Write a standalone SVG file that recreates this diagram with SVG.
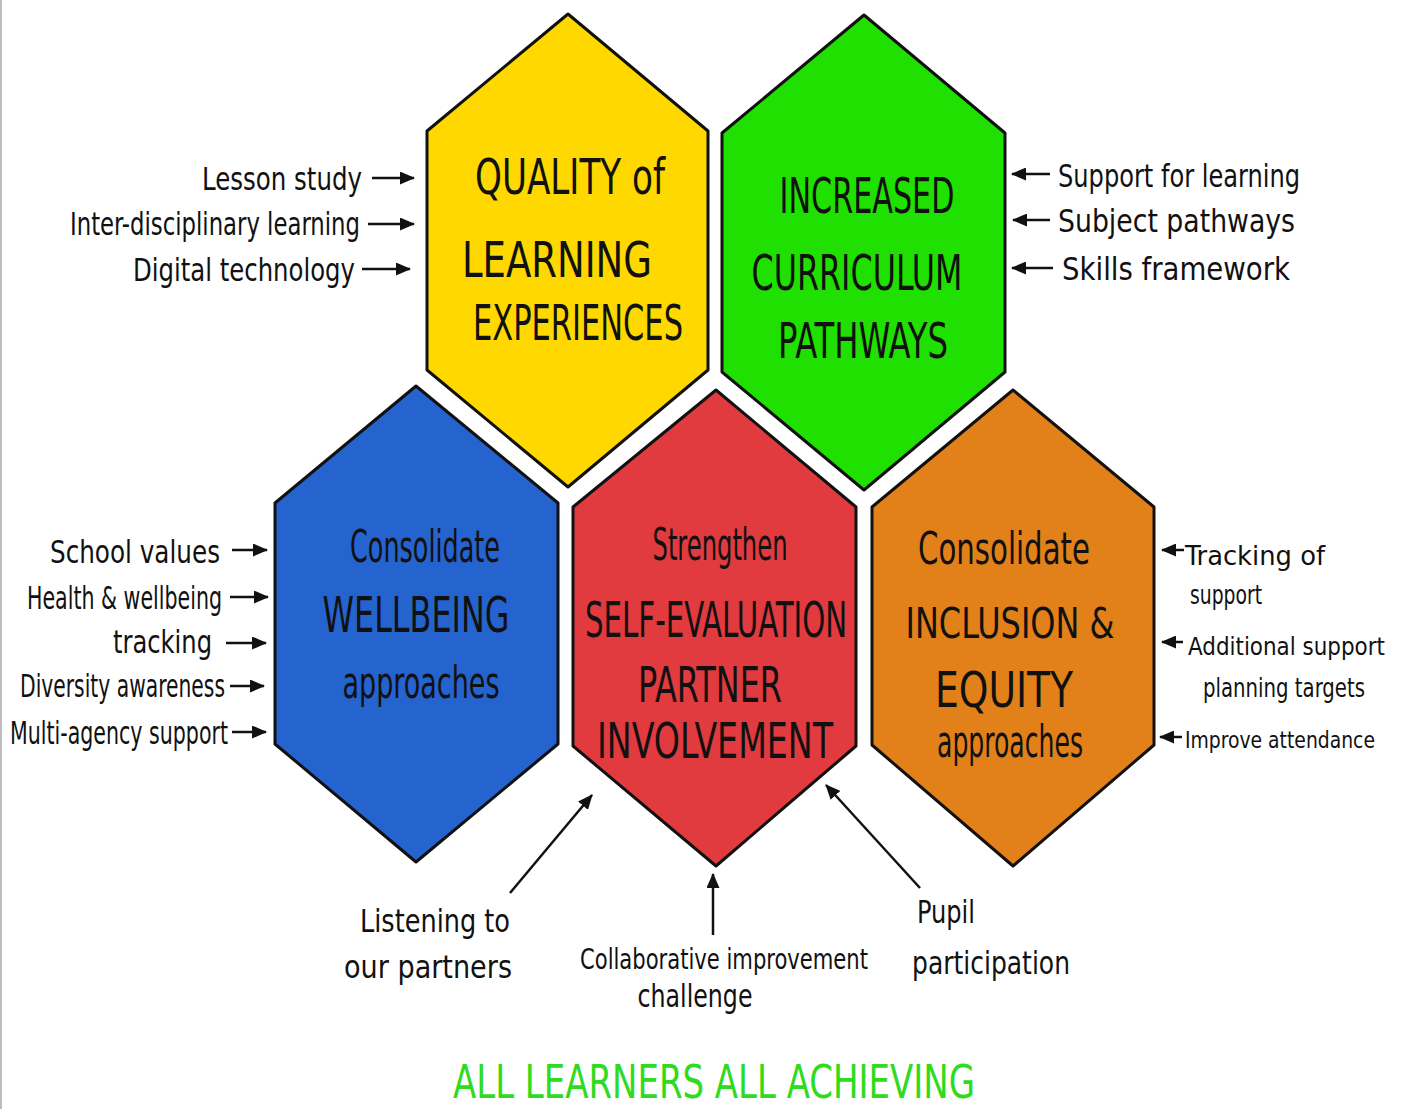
<svg xmlns="http://www.w3.org/2000/svg" width="1403" height="1109" viewBox="0 0 1403 1109">
<style>
.hex{stroke:#111;stroke-width:3;stroke-linejoin:round}
.t{font-family:"Liberation Sans Narrow","DejaVu Sans Condensed","Liberation Sans",sans-serif;fill:#111}
.cap{font-size:50px}
.mix{font-size:44px}
.lbl{font-size:32px}
.rl{font-size:27px}
.rs{font-size:25px}
.ar{stroke:#111;stroke-width:2.5;fill:none}
</style>
<defs>
<marker id="ah" markerUnits="userSpaceOnUse" markerWidth="15" markerHeight="13" viewBox="0 0 15 13" refX="14" refY="6.5" orient="auto">
<path d="M0,0 L15,6.5 L0,13 z" fill="#111"/>
</marker>
</defs>
<rect x="0" y="0" width="1403" height="1109" fill="#fff"/>
<rect x="0" y="0" width="2" height="1109" fill="#bdbdbd"/>

<g id="node-quality">
<polygon class="hex" fill="#FFD800" points="568,14 708,131 708,370 568,487 427,370 427,131"/>
<text class="t cap" x="570" y="194" text-anchor="middle" textLength="190" lengthAdjust="spacingAndGlyphs">QUALITY of</text>
<text class="t cap" x="557" y="277" text-anchor="middle" textLength="190" lengthAdjust="spacingAndGlyphs">LEARNING</text>
<text class="t cap" x="578" y="340" text-anchor="middle" textLength="210" lengthAdjust="spacingAndGlyphs">EXPERIENCES</text>
</g>

<g id="node-curriculum">
<polygon class="hex" fill="#1FE000" points="864,15 1005,133 1005,372 864,490 722,372 722,133"/>
<text class="t cap" x="867" y="213" text-anchor="middle" textLength="175" lengthAdjust="spacingAndGlyphs">INCREASED</text>
<text class="t cap" x="857" y="290" text-anchor="middle" textLength="211" lengthAdjust="spacingAndGlyphs">CURRICULUM</text>
<text class="t cap" x="863" y="358" text-anchor="middle" textLength="170" lengthAdjust="spacingAndGlyphs">PATHWAYS</text>
</g>

<g id="node-wellbeing">
<polygon class="hex" fill="#2563CF" points="416,386 558,503 558,744 416,862 275,744 275,503"/>
<text class="t mix" x="425" y="562" text-anchor="middle" textLength="150" lengthAdjust="spacingAndGlyphs">Consolidate</text>
<text class="t cap" x="416" y="632" text-anchor="middle" textLength="187" lengthAdjust="spacingAndGlyphs">WELLBEING</text>
<text class="t mix" x="421" y="698" text-anchor="middle" textLength="157" lengthAdjust="spacingAndGlyphs">approaches</text>
</g>

<g id="node-selfeval">
<polygon class="hex" fill="#E13A3F" points="716,390 856,507 856,746 716,866 573,746 573,507"/>
<text class="t mix" x="720" y="560" text-anchor="middle" textLength="135" lengthAdjust="spacingAndGlyphs">Strengthen</text>
<text class="t cap" transform="translate(716,637) scale(0.6,1)" x="0" y="0" text-anchor="middle" textLength="436.7" lengthAdjust="spacingAndGlyphs">SELF-EVALUATION</text>
<text class="t cap" x="710" y="702" text-anchor="middle" textLength="144" lengthAdjust="spacingAndGlyphs">PARTNER</text>
<text class="t cap" x="715" y="758" text-anchor="middle" textLength="236" lengthAdjust="spacingAndGlyphs">INVOLVEMENT</text>
</g>

<g id="node-inclusion">
<polygon class="hex" fill="#E2801A" points="1013,390 1154,507 1154,745 1013,866 872,745 872,507"/>
<text class="t mix" x="1004" y="564" text-anchor="middle" textLength="172" lengthAdjust="spacingAndGlyphs">Consolidate</text>
<text class="t" x="1010" y="638" text-anchor="middle" font-size="42" textLength="209" lengthAdjust="spacingAndGlyphs">INCLUSION &amp;</text>
<text class="t cap" x="1004" y="707" text-anchor="middle" textLength="138" lengthAdjust="spacingAndGlyphs">EQUITY</text>
<text class="t mix" x="1010" y="757" text-anchor="middle" textLength="146" lengthAdjust="spacingAndGlyphs">approaches</text>
</g>

<g id="labels">
<text class="t lbl" x="362" y="190" text-anchor="end" textLength="160" lengthAdjust="spacingAndGlyphs">Lesson study</text>
<text class="t lbl" x="360" y="235" text-anchor="end" textLength="290" lengthAdjust="spacingAndGlyphs">Inter-disciplinary learning</text>
<text class="t lbl" x="355" y="281" text-anchor="end" textLength="222" lengthAdjust="spacingAndGlyphs">Digital technology</text>

<text class="t lbl" x="1300" y="187" text-anchor="end" textLength="242" lengthAdjust="spacingAndGlyphs">Support for learning</text>
<text class="t lbl" x="1295" y="232" text-anchor="end" textLength="237" lengthAdjust="spacingAndGlyphs">Subject pathways</text>
<text class="t lbl" x="1290" y="280" text-anchor="end" textLength="228" lengthAdjust="spacingAndGlyphs">Skills framework</text>

<text class="t lbl" x="220" y="563" text-anchor="end" textLength="170" lengthAdjust="spacingAndGlyphs">School values</text>
<text class="t lbl" x="222" y="609" text-anchor="end" textLength="195" lengthAdjust="spacingAndGlyphs">Health &amp; wellbeing</text>
<text class="t lbl" x="212" y="653" text-anchor="end" textLength="99" lengthAdjust="spacingAndGlyphs">tracking</text>
<text class="t lbl" x="225" y="697" text-anchor="end" textLength="205" lengthAdjust="spacingAndGlyphs">Diversity awareness</text>
<text class="t lbl" x="228" y="744" text-anchor="end" textLength="218" lengthAdjust="spacingAndGlyphs">Multi-agency support</text>

<text class="t rl" x="1185" y="565" textLength="140" lengthAdjust="spacingAndGlyphs">Tracking of</text>
<text class="t rl" x="1190" y="604" textLength="72" lengthAdjust="spacingAndGlyphs">support</text>
<text class="t rs" x="1188" y="655" textLength="197" lengthAdjust="spacingAndGlyphs">Additional support</text>
<text class="t rl" x="1203" y="697" textLength="162" lengthAdjust="spacingAndGlyphs">planning targets</text>
<text class="t" x="1185" y="748" font-size="23" textLength="190" lengthAdjust="spacingAndGlyphs">Improve attendance</text>

<text class="t lbl" x="435" y="932" text-anchor="middle" textLength="150" lengthAdjust="spacingAndGlyphs">Listening to</text>
<text class="t lbl" x="428" y="978" text-anchor="middle" textLength="168" lengthAdjust="spacingAndGlyphs">our partners</text>
<text class="t" x="724" y="969" text-anchor="middle" font-size="28" textLength="288" lengthAdjust="spacingAndGlyphs">Collaborative improvement</text>
<text class="t lbl" x="695" y="1007" text-anchor="middle" textLength="115" lengthAdjust="spacingAndGlyphs">challenge</text>
<text class="t lbl" x="946" y="923" text-anchor="middle" textLength="58" lengthAdjust="spacingAndGlyphs">Pupil</text>
<text class="t lbl" x="991" y="974" text-anchor="middle" textLength="158" lengthAdjust="spacingAndGlyphs">participation</text>

<text class="t" x="714" y="1098" text-anchor="middle" font-size="46" style="fill:#2EDB1E" textLength="522" lengthAdjust="spacingAndGlyphs">ALL LEARNERS ALL ACHIEVING</text>
</g>

<g id="connectors">
<line class="ar" marker-end="url(#ah)" x1="372" y1="178" x2="414" y2="178"/>
<line class="ar" marker-end="url(#ah)" x1="368" y1="224" x2="414" y2="224"/>
<line class="ar" marker-end="url(#ah)" x1="362" y1="269" x2="410" y2="269"/>

<line class="ar" marker-end="url(#ah)" x1="1050" y1="174" x2="1012" y2="174"/>
<line class="ar" marker-end="url(#ah)" x1="1050" y1="220" x2="1013" y2="220"/>
<line class="ar" marker-end="url(#ah)" x1="1053" y1="268" x2="1012" y2="268"/>

<line class="ar" marker-end="url(#ah)" x1="232" y1="550" x2="267" y2="550"/>
<line class="ar" marker-end="url(#ah)" x1="230" y1="597" x2="268" y2="597"/>
<line class="ar" marker-end="url(#ah)" x1="226" y1="643" x2="266" y2="643"/>
<line class="ar" marker-end="url(#ah)" x1="230" y1="686" x2="264" y2="686"/>
<line class="ar" marker-end="url(#ah)" x1="232" y1="732" x2="266" y2="732"/>

<line class="ar" marker-end="url(#ah)" x1="1184" y1="550" x2="1162" y2="550"/>
<line class="ar" marker-end="url(#ah)" x1="1183" y1="642" x2="1162" y2="642"/>
<line class="ar" marker-end="url(#ah)" x1="1182" y1="737" x2="1160" y2="737"/>

<line class="ar" marker-end="url(#ah)" x1="510" y1="893" x2="592" y2="795"/>
<line class="ar" marker-end="url(#ah)" x1="713" y1="935" x2="713" y2="874"/>
<line class="ar" marker-end="url(#ah)" x1="920" y1="888" x2="826" y2="785"/>
</g>
</svg>
